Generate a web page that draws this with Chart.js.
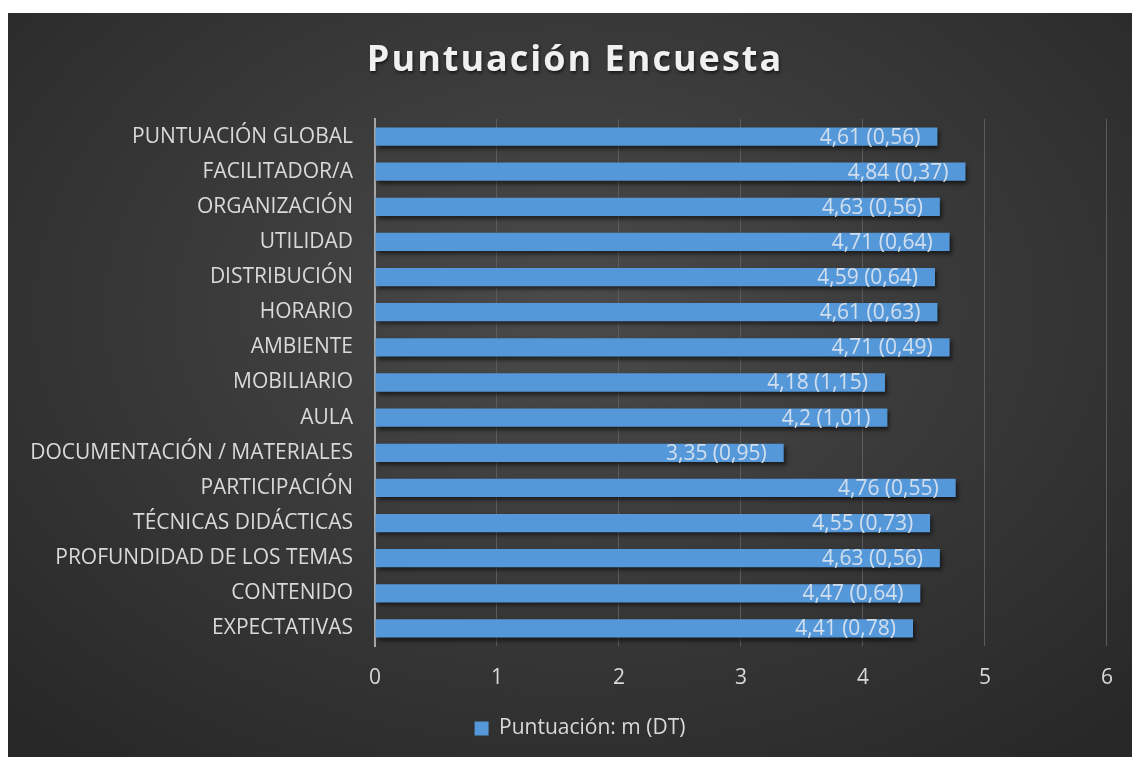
<!DOCTYPE html>
<html>
<head>
<meta charset="utf-8">
<script src="https://cdn.jsdelivr.net/npm/chart.js@4.4.0/dist/chart.umd.min.js"></script>
<style>
  html, body { margin: 0; padding: 0; background: #ffffff; }
  #wrap {
    position: absolute; left: 8px; top: 13px; width: 1124px; height: 744px;
    background: radial-gradient(ellipse 72% 78% at 50% 40%, #4b4b4b 0%, #3a3a3a 45%, #272727 100%);
  }
</style>
</head>
<body>
<div id="wrap"><canvas id="chart" width="1124" height="744"></canvas></div>
<script>
// datos de la encuesta (de arriba a abajo)
const categorias = [
  'PUNTUACIÓN GLOBAL', 'FACILITADOR/A', 'ORGANIZACIÓN', 'UTILIDAD', 'DISTRIBUCIÓN',
  'HORARIO', 'AMBIENTE', 'MOBILIARIO', 'AULA', 'DOCUMENTACIÓN / MATERIALES',
  'PARTICIPACIÓN', 'TÉCNICAS DIDÁCTICAS', 'PROFUNDIDAD DE LOS TEMAS', 'CONTENIDO', 'EXPECTATIVAS'
];
const medias = [4.61, 4.84, 4.63, 4.71, 4.59, 4.61, 4.71, 4.18, 4.2, 3.35, 4.76, 4.55, 4.63, 4.47, 4.41];
const desviaciones = [0.56, 0.37, 0.56, 0.64, 0.64, 0.63, 0.49, 1.15, 1.01, 0.95, 0.55, 0.73, 0.56, 0.64, 0.78];
const ticksX = [0, 1, 2, 3, 4, 5, 6];
const titulo = 'Puntuación Encuesta';
const nombreSerie = 'Puntuación: m (DT)';

const fuente = "'Open Sans', 'Noto Sans', sans-serif";
const gris = '#d9d9d9';
const coma = v => String(v).replace('.', ',');

// título con espaciado entre letras
const tituloPlugin = {
  id: 'tituloPlugin',
  afterDraw(chart) {
    const ctx = chart.ctx;
    ctx.save();
    ctx.font = "bold 36px " + fuente;
    ctx.letterSpacing = '2px';
    ctx.fillStyle = '#f0f0f0';
    ctx.textAlign = 'center';
    ctx.textBaseline = 'middle';
    ctx.shadowColor = 'rgba(0,0,0,0.6)';
    ctx.shadowBlur = 3;
    ctx.shadowOffsetX = 1;
    ctx.shadowOffsetY = 2;
    ctx.fillText(titulo, 567, 48);
    ctx.restore();
  }
};

// la leyenda queda algo más a la derecha en el original
const leyendaPlugin = {
  id: 'leyendaPlugin',
  afterLayout(chart) {
    if (chart.legend) chart.legend.left += 45;
  }
};

// sombra de barras + etiquetas "m (DT)"
const barrasPlugin = {
  id: 'barrasPlugin',
  beforeDatasetsDraw(chart) {
    const ctx = chart.ctx;
    ctx.save();
    ctx.shadowColor = 'rgba(0,0,0,0.55)';
    ctx.shadowBlur = 4;
    ctx.shadowOffsetX = 2;
    ctx.shadowOffsetY = 3;
  },
  afterDatasetsDraw(chart) {
    const ctx = chart.ctx;
    ctx.restore();
    const meta = chart.getDatasetMeta(0);
    ctx.save();
    ctx.font = "21px " + fuente;
    ctx.fillStyle = 'rgba(222,230,240,0.9)';
    ctx.textAlign = 'right';
    ctx.textBaseline = 'middle';
    meta.data.forEach((bar, i) => {
      const txt = coma(medias[i]) + ' (' + coma(desviaciones[i]) + ')';
      ctx.fillText(txt, bar.x - 17, bar.y + 1);
    });
    ctx.restore();
  }
};

const ctx = document.getElementById('chart').getContext('2d');
new Chart(ctx, {
  type: 'bar',
  data: {
    labels: categorias,
    datasets: [{
      label: nombreSerie,
      data: medias,
      backgroundColor: '#5598da',
      borderWidth: 0,
      categoryPercentage: 0.52,
      barPercentage: 1
    }]
  },
  options: {
    indexAxis: 'y',
    responsive: false,
    animation: false,
    layout: { padding: { top: 106, right: 25, left: 0, bottom: 8 } },
    scales: {
      x: {
        min: 0, max: 6,
        afterBuildTicks(scale) { scale.ticks = ticksX.map(v => ({ value: v })); },
        afterFit(scale) { scale.height = 62; },
        grid: { color: '#5c5c5c', lineWidth: 1, drawTicks: false },
        border: { display: false },
        ticks: { color: gris, font: { family: fuente, size: 21 }, padding: 19 }
      },
      y: {
        afterFit(scale) { scale.width = 367; },
        grid: { display: false, drawTicks: false },
        border: { display: true, color: '#a6a6a6', width: 2 },
        ticks: { color: gris, font: { family: fuente, size: 21 }, padding: 22, autoSkip: false }
      }
    },
    plugins: {
      title: { display: false },
      tooltip: { enabled: false },
      legend: {
        position: 'bottom',
        labels: {
          color: gris,
          font: { family: fuente, size: 21 },
          boxWidth: 14, boxHeight: 14,
          padding: 10
        }
      }
    }
  },
  plugins: [tituloPlugin, leyendaPlugin, barrasPlugin]
});
</script>
</body>
</html>
